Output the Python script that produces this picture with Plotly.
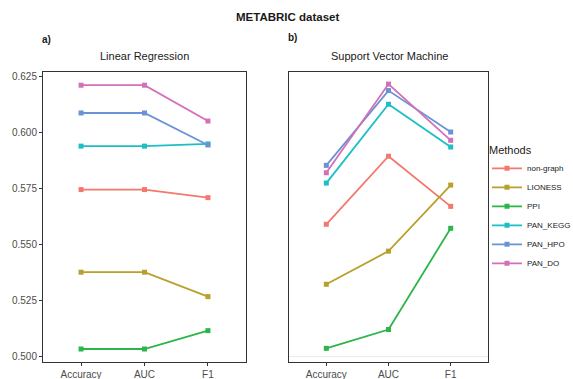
import plotly.graph_objects as go

metrics = ["Accuracy", "AUC", "F1"]
methods = ["non-graph", "LIONESS", "PPI", "PAN_KEGG", "PAN_HPO", "PAN_DO"]
colors = ["#F3786E", "#B8A02A", "#2CB54A", "#1DBFC6", "#6A92D6", "#D46FBA"]

# Linear Regression values (Accuracy, AUC, F1)
lr_nongraph = [0.5746, 0.5746, 0.5710]
lr_lioness = [0.5377, 0.5377, 0.5268]
lr_ppi = [0.5034, 0.5034, 0.5116]
lr_pan_kegg = [0.5940, 0.5940, 0.5950]
lr_pan_hpo = [0.6088, 0.6088, 0.5945]
lr_pan_do = [0.6212, 0.6212, 0.6052]

# Support Vector Machine values (Accuracy, AUC, F1)
svm_nongraph = [0.5591, 0.5895, 0.5671]
svm_lioness = [0.5323, 0.5471, 0.5766]
svm_ppi = [0.5037, 0.5121, 0.5573]
svm_pan_kegg = [0.5775, 0.6127, 0.5936]
svm_pan_hpo = [0.5854, 0.6188, 0.6003]
svm_pan_do = [0.5821, 0.6217, 0.5966]

lr_vals = [lr_nongraph, lr_lioness, lr_ppi, lr_pan_kegg, lr_pan_hpo, lr_pan_do]
svm_vals = [svm_nongraph, svm_lioness, svm_ppi, svm_pan_kegg, svm_pan_hpo, svm_pan_do]

yticks = [0.500, 0.525, 0.550, 0.575, 0.600, 0.625]
yrange = [0.4976, 0.6271]

W, H = 573, 379
def px(x):
    return x / W
def py(y):
    return 1 - y / H

fig = go.Figure()
for i, m in enumerate(methods):
    fig.add_trace(go.Scatter(
        x=metrics, y=lr_vals[i], mode="lines+markers", name=m,
        line=dict(color=colors[i], width=1.8),
        marker=dict(symbol="square", size=5, color=colors[i]),
        legendgroup=m, showlegend=True, xaxis="x", yaxis="y"))
for i, m in enumerate(methods):
    fig.add_trace(go.Scatter(
        x=metrics, y=svm_vals[i], mode="lines+markers", name=m,
        line=dict(color=colors[i], width=1.8),
        marker=dict(symbol="square", size=5, color=colors[i]),
        legendgroup=m, showlegend=False, xaxis="x2", yaxis="y2"))

axis_common = dict(showline=True, linecolor="#333333", linewidth=1, mirror=True,
                   showgrid=False, zeroline=False, ticks="outside", ticklen=3,
                   tickcolor="#333333", automargin=False,
                   tickfont=dict(size=10, color="#4D4D4D"))

fig.update_layout(
    width=W, height=H,
    margin=dict(l=0, r=0, t=0, b=0, autoexpand=False),
    paper_bgcolor="white", plot_bgcolor="white",
    font=dict(family="Liberation Sans, Arial, sans-serif", color="#1A1A1A"),
    xaxis=dict(domain=[px(43), px(246)], range=[-0.6, 2.6], type="category",
               categoryorder="array", categoryarray=metrics, anchor="y", **axis_common),
    yaxis=dict(domain=[py(362), py(72)], range=yrange, tickvals=yticks,
               tickformat=".3f", anchor="x", **axis_common),
    xaxis2=dict(domain=[px(289), px(488)], range=[-0.6, 2.6], type="category",
                categoryorder="array", categoryarray=metrics, anchor="y2", **axis_common),
    yaxis2=dict(domain=[py(362), py(72)], range=yrange, tickvals=yticks,
                showticklabels=False, anchor="x2",
                **{k: v for k, v in axis_common.items() if k not in ("ticks",)}),
    legend=dict(x=px(487), y=py(209), xanchor="left", yanchor="middle",
                title=dict(text="Methods", font=dict(size=11, color="#1A1A1A")),
                font=dict(size=8, color="#1A1A1A"), tracegroupgap=0,
                itemwidth=30, bgcolor="rgba(0,0,0,0)"),
    shapes=[dict(type="line", xref="x2 domain", yref="y2", x0=0, x1=1,
                 y0=yticks[0], y1=yticks[0], line=dict(color="#EBEBEB", width=1),
                 layer="below")],
    annotations=[
        dict(text="<b>METABRIC dataset</b>", x=px(287), y=py(17), xref="paper", yref="paper",
             showarrow=False, font=dict(size=11.5, color="#1A1A1A"), xanchor="center", yanchor="middle"),
        dict(text="<b>a)</b>", x=px(40), y=py(39), xref="paper", yref="paper",
             showarrow=False, font=dict(size=10, color="#1A1A1A"), xanchor="left", yanchor="middle"),
        dict(text="<b>b)</b>", x=px(286), y=py(38), xref="paper", yref="paper",
             showarrow=False, font=dict(size=10, color="#1A1A1A"), xanchor="left", yanchor="middle"),
        dict(text="Linear Regression", x=px(144), y=py(56), xref="paper", yref="paper",
             showarrow=False, font=dict(size=11, color="#1A1A1A"), xanchor="center", yanchor="middle"),
        dict(text="Support Vector Machine", x=px(389), y=py(56), xref="paper", yref="paper",
             showarrow=False, font=dict(size=11, color="#1A1A1A"), xanchor="center", yanchor="middle"),
    ],
)

fig.write_html("out.html", config={"displayModeBar": False},
               post_script="document.body.style.margin='0';document.body.style.overflow='hidden';")
